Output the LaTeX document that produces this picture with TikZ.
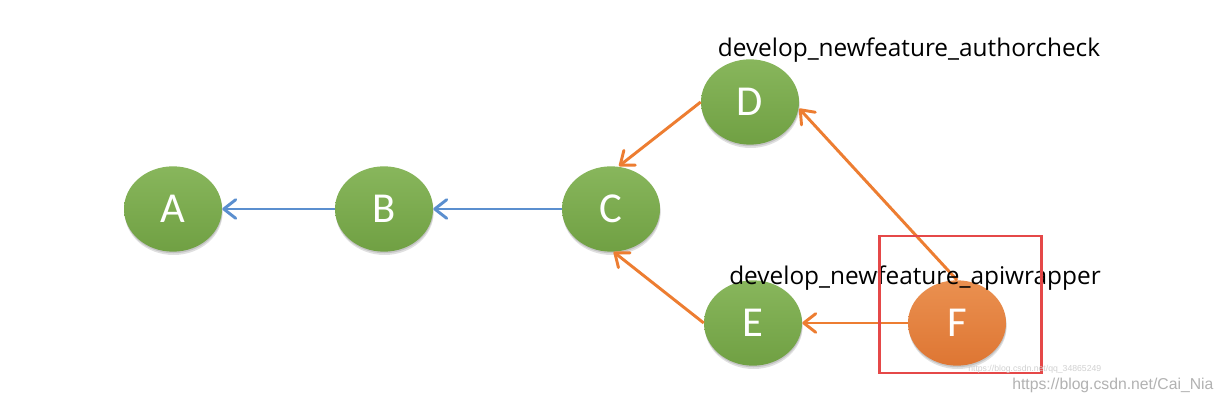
\documentclass[tikz,border=0pt]{standalone}
\usepackage{fontspec}
\setmainfont{Open Sans}
\newfontfamily\nodefont{Carlito}
\newfontfamily\wmfont{Liberation Sans}
\usetikzlibrary{arrows.meta,shadows,shapes.geometric}
\definecolor{gtop}{HTML}{88B65C}
\definecolor{gbot}{HTML}{70A043}
\definecolor{otop}{HTML}{EA9050}
\definecolor{obot}{HTML}{DE7633}
\definecolor{lblue}{HTML}{5B8FCF}
\definecolor{lorange}{HTML}{ED7D31}
\definecolor{frame}{HTML}{E54848}
\tikzset{
  commit/.style={ellipse, minimum width=73.5pt, minimum height=64pt, inner sep=0pt,
    top color=gtop, bottom color=gbot, draw=none, text=white,
    font=\nodefont\fontsize{32}{32}\selectfont,
    drop shadow={shadow xshift=0.5pt, shadow yshift=-2.5pt, opacity=0.12, fill=black},
    drop shadow={shadow xshift=0.3pt, shadow yshift=-1.2pt, opacity=0.12, fill=black}},
  hotcommit/.style={commit, top color=otop, bottom color=obot},
  tipstyle/.style={-{Straight Barb[length=9pt,width=14pt,line width=2.2pt,round]}},
  bluearr/.style={draw=lblue, line width=2.2pt, tipstyle},
  orangearr/.style={draw=lorange, line width=2.2pt, tipstyle},
  branchlabel/.style={anchor=base, font=\fontsize{18.3}{20}\selectfont, text=black, inner sep=0pt},
}
\begin{document}
\begin{tikzpicture}[x=0.75pt, y=-0.75pt]
\useasboundingbox[fill=white] (0,0) rectangle (1224,402);
\node[commit] (A) at (173,209) {A};
\node[commit] (B) at (384,209) {B};
\node[commit] (C) at (611,209) {C};
\node[commit] (D) at (750,102) {D};
\node[commit] (E) at (753,323) {E};
\node[hotcommit] (F) at (957,323) {F};
\draw[bluearr] (B.west) -- (A.east);
\draw[bluearr] (C.west) -- (B.east);
\draw[orangearr] (D.west) -- ([xshift=6pt]C.north);
\draw[orangearr] (E.west) -- ([xshift=2pt]C.south);
\draw[orangearr] (F.north) -- ([yshift=-5pt]D.east);
\draw[orangearr] (F.west) -- (E.east);
\node[branchlabel] (l1) at (909,57) {develop\_newfeature\_authorcheck};
\node[branchlabel] (l2) at (915,285) {develop\_newfeature\_apiwrapper};
\node[draw=frame, line width=2.2pt, minimum width=122pt, minimum height=102.75pt, inner sep=0pt] (box) at (960.5,304.5) {};
\node[font=\wmfont\fontsize{6.5}{7}\selectfont, text=black!18, anchor=base west, inner sep=0pt] (wm2) at (968,372) {https://blog.csdn.net/qq\_34865249};
\node[font=\wmfont\fontsize{11.8}{13}\selectfont, text=black!30, anchor=base west, inner sep=0pt] (wm1) at (1012,390) {https://blog.csdn.net/Cai\_Nia};
\end{tikzpicture}
\end{document}
